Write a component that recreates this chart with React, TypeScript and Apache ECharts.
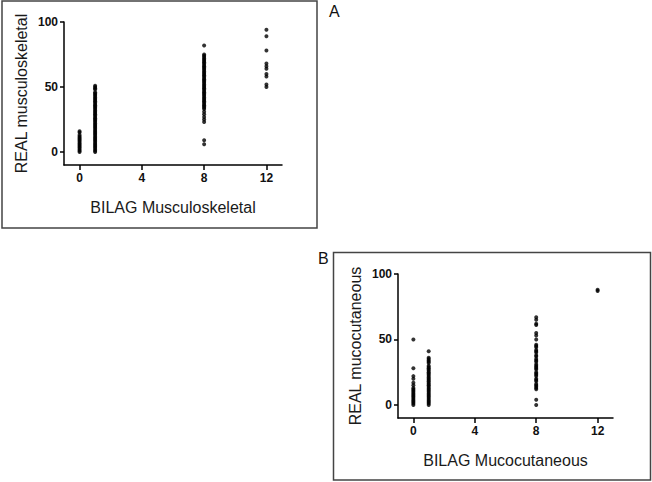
import React, { useEffect, useRef } from "react";
import * as echarts from "echarts";

// Panel A: BILAG Musculoskeletal vs REAL musculoskeletal
const panelATitleX = "BILAG Musculoskeletal";
const panelATitleY = "REAL musculoskeletal";
const aAt0 = [0, 1, 2, 3, 4, 5, 6, 7, 8, 9, 10, 11, 12, 13, 15, 16];
const aAt1 = [0, 1, 2, 3, 4, 5, 6, 7, 8, 9, 10, 11, 12, 13, 14, 15, 16, 17, 18, 19, 20, 21, 22, 23, 24, 25, 26, 27, 28, 29, 30, 31, 32, 33, 34, 35, 36, 37, 38, 39, 40, 41, 42, 43, 44, 45, 46, 48, 49, 50, 51];
const aAt8 = [82, 75, 74, 73, 72, 71, 70, 69, 68, 67, 66, 65, 64, 63, 62, 61, 60, 59, 58, 57, 56, 55, 54, 53, 52, 51, 50, 49, 48, 47, 46, 45, 44, 43, 42, 41, 40, 39, 38, 37, 36, 35, 34, 33, 31, 29, 27, 25, 23, 9, 6];
const aAt12 = [94, 89, 78, 68, 66, 64, 60, 58, 52, 50];

// Panel B: BILAG Mucocutaneous vs REAL mucocutaneous
const panelBTitleX = "BILAG Mucocutaneous";
const panelBTitleY = "REAL mucocutaneous";
const bAt0 = [50, 28, 22, 20, 17, 15, 13, 12, 11, 10, 9, 8, 7, 6, 5, 4, 3, 2, 1, 0];
const bAt1 = [41, 36, 35, 34, 33, 32, 30, 29, 28, 27, 26, 25, 24, 23, 22, 21, 20, 19, 18, 17, 16, 15, 14, 13, 12, 11, 10, 9, 8, 7, 6, 5, 4, 3, 2, 1, 0];
const bAt8 = [67, 65, 62, 61, 55, 53, 50, 46, 45, 44, 42, 41, 40, 38, 37, 35, 34, 33, 31, 30, 29, 28, 27, 25, 24, 23, 22, 20, 19, 18, 16, 15, 14, 13, 12, 4, 0];
const bAt12 = [88, 87];

const xTicks = [0, 4, 8, 12];
const yTicks = [0, 50, 100];
const panelLetters = ["A", "B"];

function pairs(x: number, ys: number[]) {
  return ys.map((y) => [x, y]);
}

export default function App() {
  const ref = useRef<HTMLDivElement>(null);
  useEffect(() => {
    if (!ref.current) return;
    const chart = echarts.init(ref.current, undefined, { renderer: "svg" });
    const font = "Liberation Sans, Arial, sans-serif";
    const mkX = (gridIndex: number, name: string) => ({
      type: "value",
      gridIndex,
      min: -1,
      max: 13,
      name,
      nameLocation: "middle",
      nameGap: 34,
      nameTextStyle: { fontSize: 16, fontFamily: font, color: "#1a1a1a" },
      axisLine: { show: true, onZero: false, lineStyle: { color: "#000", width: 1.5 } },
      axisTick: { show: true, length: 5, customValues: xTicks, lineStyle: { color: "#000", width: 1.5 } },
      axisLabel: { customValues: xTicks, margin: 7, fontSize: 12, fontWeight: "bold", fontFamily: font, color: "#111" },
      splitLine: { show: false },
    });
    const mkY = (gridIndex: number, name: string) => ({
      type: "value",
      gridIndex,
      min: -10,
      max: 100,
      name,
      nameLocation: "middle",
      nameGap: 35,
      nameTextStyle: { fontSize: 16, fontFamily: font, color: "#1a1a1a" },
      axisLine: { show: true, onZero: false, lineStyle: { color: "#000", width: 1.5 } },
      axisTick: { show: true, length: 4, customValues: yTicks, lineStyle: { color: "#000", width: 1.5 } },
      axisLabel: { customValues: yTicks, margin: 6, fontSize: 12, fontWeight: "bold", fontFamily: font, color: "#111" },
      splitLine: { show: false },
    });
    const dot = { symbol: "circle", symbolSize: 4, itemStyle: { color: "#000" } };
    chart.setOption({
      animation: false,
      backgroundColor: "#fff",
      grid: [
        { left: 64, top: 22, width: 218, height: 143 },
        { left: 398, top: 274, width: 215, height: 144 },
      ],
      xAxis: [mkX(0, panelATitleX), mkX(1, panelBTitleX)],
      yAxis: [mkY(0, panelATitleY), mkY(1, panelBTitleY)],
      series: [
        { type: "scatter", xAxisIndex: 0, yAxisIndex: 0, ...dot, data: [...pairs(0, aAt0), ...pairs(1, aAt1), ...pairs(8, aAt8), ...pairs(12, aAt12)] },
        { type: "scatter", xAxisIndex: 1, yAxisIndex: 1, ...dot, data: [...pairs(0, bAt0), ...pairs(1, bAt1), ...pairs(8, bAt8), ...pairs(12, bAt12)] },
      ],
      graphic: [
        { type: "rect", shape: { x: 2, y: 1, width: 315, height: 227 }, style: { fill: "none", stroke: "#444", lineWidth: 1.5 } },
        { type: "rect", shape: { x: 333.5, y: 252.5, width: 317, height: 227.5 }, style: { fill: "none", stroke: "#444", lineWidth: 1.5 } },
        { type: "text", x: 329, y: 3, style: { text: panelLetters[0], fontSize: 16, fontFamily: font, fill: "#111" } },
        { type: "text", x: 318, y: 250, style: { text: panelLetters[1], fontSize: 16, fontFamily: font, fill: "#111" } },
      ],
    });
    return () => chart.dispose();
  }, []);
  return <div ref={ref} style={{ position: "absolute", left: 0, top: 0, width: 652, height: 482 }} />;
}
